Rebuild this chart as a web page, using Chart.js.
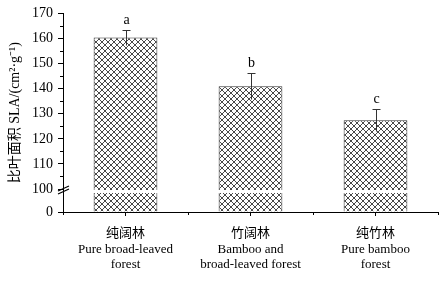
<!DOCTYPE html>
<html lang="zh">

<head>
    <meta charset="UTF-8">
    <title>比叶面积</title>
    <script src="https://cdn.jsdelivr.net/npm/chart.js"></script>
    <style>
        body {
            margin: 0;
            background-color: #ffffff;
        }
    </style>
</head>

<body>
    <canvas id="grafico" width="446" height="286"></canvas>
</body>

</html>

<script>
    // dados
    var categorias = [
        ['纯阔林', 'Pure broad-leaved', 'forest'],
        ['竹阔林', 'Bamboo and', 'broad-leaved forest'],
        ['纯竹林', 'Pure bamboo', 'forest']
    ];
    var sla = [160.4, 141.0, 127.4];
    var erro = [2.9, 5.2, 4.3];
    var letras = ['a', 'b', 'c'];
    var ticksY = [0, 100, 110, 120, 130, 140, 150, 160, 170];
    var ticksMenores = [105, 115, 125, 135, 145, 155, 165];

    var valorQuebra = 100;   // eixo quebrado entre 0 e 100
    var alturaQuebra = 23;   // px usados pelo trecho 0-100

    var fonteSerif = "'Liberation Serif', 'Noto Sans CJK SC', serif";

    // escala linear com quebra
    class EscalaQuebrada extends Chart.LinearScale {
        buildTicks() {
            return ticksY.map(v => ({ value: v }));
        }
        getPixelForValue(v) {
            var topoBaixo = this.bottom - alturaQuebra;
            if (v <= valorQuebra) {
                return this.bottom - (v - this.min) / (valorQuebra - this.min) * alturaQuebra;
            }
            return topoBaixo - (v - valorQuebra) / (this.max - valorQuebra) * (topoBaixo - this.top);
        }
        getValueForPixel(p) {
            var topoBaixo = this.bottom - alturaQuebra;
            if (p >= topoBaixo) {
                return this.min + (this.bottom - p) / alturaQuebra * (valorQuebra - this.min);
            }
            return valorQuebra + (topoBaixo - p) / (topoBaixo - this.top) * (this.max - valorQuebra);
        }
    }
    EscalaQuebrada.id = 'quebrada';
    EscalaQuebrada.defaults = Chart.LinearScale.defaults;
    Chart.register(EscalaQuebrada);

    // hachura cruzada
    function criarHachura() {
        var c = document.createElement('canvas');
        c.width = 6;
        c.height = 6;
        var ctx = c.getContext('2d');
        ctx.fillStyle = '#ffffff';
        ctx.fillRect(0, 0, 6, 6);
        ctx.strokeStyle = '#333333';
        ctx.lineWidth = 0.9;
        ctx.beginPath();
        ctx.moveTo(0, 0); ctx.lineTo(6, 6);
        ctx.moveTo(0, 6); ctx.lineTo(6, 0);
        ctx.stroke();
        return ctx.createPattern(c, 'repeat');
    }

    var extras = {
        id: 'extras',
        afterDatasetsDraw(chart) {
            var ctx = chart.ctx;
            var x = chart.scales.x;
            var y = chart.scales.y;
            var area = chart.chartArea;
            ctx.save();

            // faixa branca da quebra
            var pq = y.getPixelForValue(valorQuebra);
            ctx.fillStyle = '#ffffff';
            ctx.fillRect(area.left + 1, pq + 1, area.right - area.left - 1, 3);

            // barras de erro e letras
            ctx.strokeStyle = '#333333';
            ctx.lineWidth = 1;
            sla.forEach((v, i) => {
                var px = Math.round(x.getPixelForValue(i)) + 0.5;
                var pTopo = Math.round(y.getPixelForValue(v + erro[i])) + 0.5;
                var pBase = Math.round(y.getPixelForValue(v - erro[i])) + 0.5;
                ctx.beginPath();
                ctx.moveTo(px, pBase); ctx.lineTo(px, pTopo);
                ctx.moveTo(px - 4, pTopo); ctx.lineTo(px + 4, pTopo);
                ctx.stroke();

                ctx.fillStyle = '#000000';
                ctx.font = '14px ' + fonteSerif;
                ctx.textAlign = 'center';
                ctx.textBaseline = 'alphabetic';
                ctx.fillText(letras[i], px, pTopo - 7);
            });

            // ticks menores no eixo y
            ctx.strokeStyle = '#000000';
            ctx.beginPath();
            ticksMenores.forEach(v => {
                var py = Math.round(y.getPixelForValue(v)) + 0.5;
                ctx.moveTo(area.left - 3, py); ctx.lineTo(area.left, py);
            });
            // ticks nos limites das categorias
            for (var i = 0; i <= categorias.length; i++) {
                var bx = Math.round(x.getPixelForValue(i - 0.5)) + 0.5;
                ctx.moveTo(bx, area.bottom); ctx.lineTo(bx, area.bottom + 3);
            }
            ctx.stroke();

            // marca da quebra //
            ctx.lineWidth = 1.2;
            ctx.beginPath();
            ctx.moveTo(area.left - 5, pq + 2); ctx.lineTo(area.left + 6, pq - 3);
            ctx.moveTo(area.left - 5, pq + 5); ctx.lineTo(area.left + 6, pq);
            ctx.stroke();
            ctx.restore();
        }
    };

    var grafico = new Chart(document.getElementById('grafico').getContext('2d'), {
        type: 'bar',
        data: {
            labels: categorias,
            datasets: [{
                data: sla,
                backgroundColor: criarHachura(),
                borderColor: '#333333',
                borderWidth: 1,
                barPercentage: 0.51,
                categoryPercentage: 1
            }]
        },
        options: {
            responsive: false,
            animation: false,
            devicePixelRatio: 1,
            layout: {
                padding: { top: 13, right: 8, left: 0, bottom: 0 }
            },
            plugins: {
                legend: { display: false },
                tooltip: { enabled: false }
            },
            scales: {
                x: {
                    offset: true,
                    afterFit: (s) => { s.height = 74; },
                    border: { display: true, color: '#000000', width: 1 },
                    grid: {
                        drawOnChartArea: false,
                        tickLength: 4,
                        color: '#000000',
                        offset: false
                    },
                    ticks: {
                        color: '#000000',
                        padding: 10,
                        maxRotation: 0,
                        font: { family: fonteSerif, size: 13, lineHeight: 1.2 }
                    }
                },
                y: {
                    type: 'quebrada',
                    min: 0,
                    max: 170,
                    afterFit: (s) => { s.width = 63; },
                    border: { display: true, color: '#000000', width: 1 },
                    grid: {
                        drawOnChartArea: false,
                        tickLength: 5,
                        color: '#000000'
                    },
                    ticks: {
                        color: '#000000',
                        padding: 5,
                        autoSkip: false,
                        callback: (v) => v,
                        font: { family: fonteSerif, size: 14 }
                    },
                    title: {
                        display: true,
                        text: '比叶面积 SLA/(cm²·g⁻¹)',
                        color: '#000000',
                        padding: { top: 7, bottom: 0 },
                        font: { family: fonteSerif, size: 14 }
                    }
                }
            }
        },
        plugins: [extras]
    });
</script>
